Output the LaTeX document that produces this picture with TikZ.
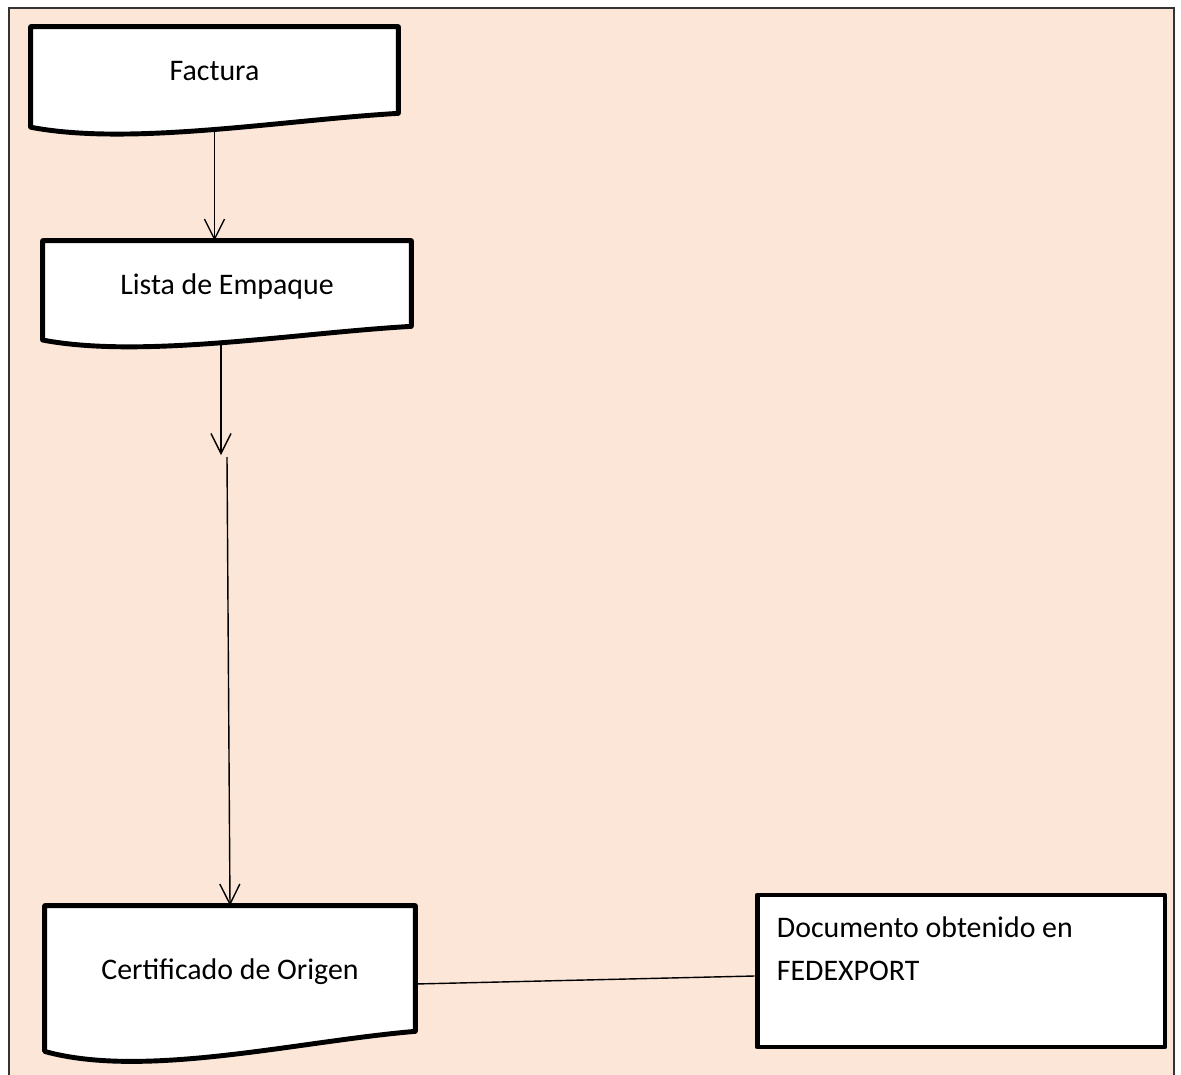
\documentclass[tikz,border=0pt]{standalone}
\usepackage{fontspec}
\setmainfont{Carlito}
\usetikzlibrary{arrows.meta,calc}

\definecolor{peach}{RGB}{251,230,216}

\pgfdeclarelayer{bg}
\pgfdeclarelayer{lines}
\pgfdeclarelayer{shapes}
\pgfsetlayers{bg,lines,shapes,main}

\tikzset{
  docnode/.style={inner sep=0pt, font=\fontsize{17}{24.4}\selectfont},
  doctext/.style={docnode, text height=1.2em, text depth=0pt},
  docline/.style={line width=2.8pt, line join=round, fill=white},
  flow/.style={line width=0.8pt, -{Straight Barb[length=0.4cm,width=0.4cm]}},
  link/.style={line width=0.8pt},
}

% outline of a document: flat top, wavy bottom
\newcommand{\docoutline}[1]{%
  \begin{pgfonlayer}{shapes}
  \draw[docline] let \p1=(#1.north west), \p2=(#1.south east),
      \n1={\y1-\y2}, \n2={\x2-\x1} in
    (\p1) -- (\x2,\y1) -- (\p2)
    .. controls ($(\p2)+(-0.32*\n2,-0.08*\n1)$)
            and ($(\x1,\y2)+(0.27*\n2,-0.38*\n1)$) .. ($(\x1,\y2)+(0,-0.16*\n1)$)
    -- cycle;
  \end{pgfonlayer}}

\begin{document}
\begin{tikzpicture}[x=0.02cm,y=-0.02cm]

            \useasboundingbox (0,0) rectangle (1181,1075);

            % page
            \begin{pgfonlayer}{bg}
            \fill[peach] (9,8) rectangle (1174,1075);
            \draw[line width=0.8pt, black!80] (9,1075) -- (9,8) -- (1174,8) -- (1174,1075);
            \end{pgfonlayer}

            % documents
            \node[doctext, minimum width=7.34cm, minimum height=1.72cm] (factura) at (214.5,70) {Factura};
            \docoutline{factura}
            \node[doctext, minimum width=7.36cm, minimum height=1.70cm] (lista) at (227,283.5) {Lista de Empaque};
            \docoutline{lista}
            \node[doctext, minimum width=7.40cm, minimum height=2.50cm] (certificado) at (230,968.5) {Certificado de Origen};
            \docoutline{certificado}

            % FEDEXPORT box
            \node[draw, line width=2.8pt, line join=round, fill=white, minimum width=8.16cm, minimum height=3.04cm] (fedexport) at (961,971) {};
            \node[docnode, anchor=north west, align=left] (fedtext) at ([shift={(22,24)}]fedexport.north west) {Documento obtenido en\\FEDEXPORT};

            % connectors
            \coordinate (midtip) at (221,455);
            \coordinate (midtail) at (227,457);
            \begin{pgfonlayer}{lines}
            \draw[flow] (factura.south) -- (factura.south |- lista.north);
            \draw[flow] (lista.south -| midtip) -- (midtip);
            \draw[flow] (midtail) -- (certificado.north);
            \draw[link] ([shift={(0,15.5)}]certificado.east) -- ([shift={(0,5)}]fedexport.west);
            \end{pgfonlayer}

\end{tikzpicture}
\end{document}
